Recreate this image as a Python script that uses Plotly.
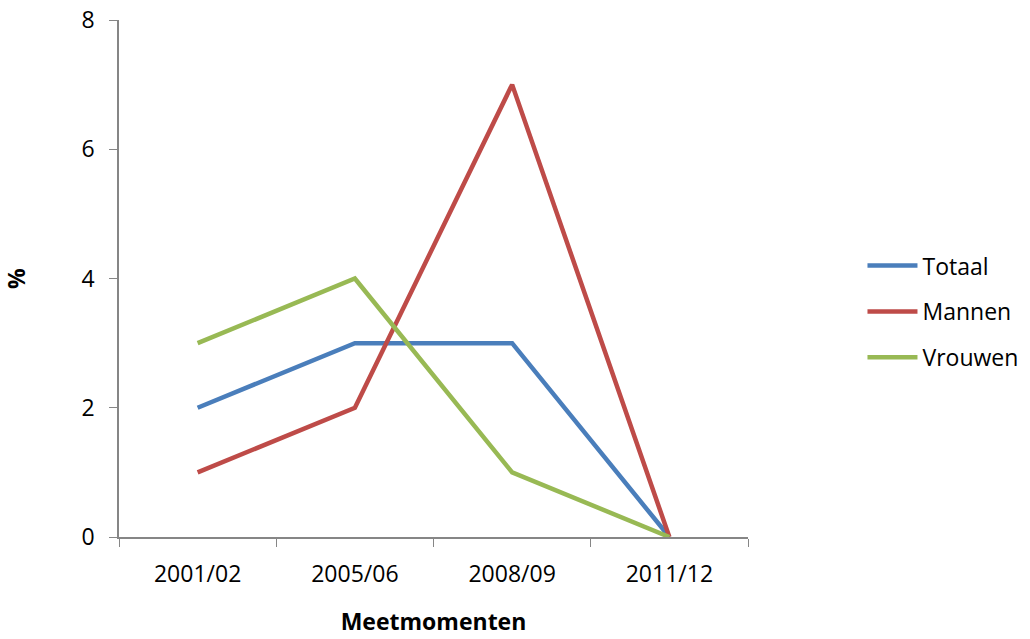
import plotly.graph_objects as go

categories = ["2001/02", "2005/06", "2008/09", "2011/12"]
totaal = [2, 3, 3, 0]
mannen = [1, 2, 7, 0]
vrouwen = [3, 4, 1, 0]

series = [
    ("Totaal", totaal, "#4A7EBB"),
    ("Mannen", mannen, "#BE4B48"),
    ("Vrouwen", vrouwen, "#98B954"),
]

FONT = "Open Sans"
FS = 23

fig = go.Figure()
for name, vals, col in series:
    fig.add_trace(go.Scatter(
        x=categories, y=vals, name=name, mode="lines",
        line=dict(color=col, width=4.5),
        legendgroup=name,
    ))

fig.update_layout(
    width=1030, height=639,
    margin=dict(l=119, r=282, t=20, b=102, autoexpand=False),
    paper_bgcolor="white", plot_bgcolor="white",
    font=dict(family=FONT, size=FS, color="black"),
    showlegend=True,
    legend=dict(
        x=1.182, y=0.436, xanchor="left", yanchor="middle",
        font=dict(family=FONT, size=FS, color="black"),
        tracegroupgap=13, itemwidth=50,
        bgcolor="rgba(0,0,0,0)",
    ),
    xaxis=dict(
        type="category", range=[-0.5, 3.5], automargin=False,
        tickson="boundaries", ticks="outside", ticklen=8,
        tickcolor="#868686", showline=True, linecolor="#868686", linewidth=1.5,
        showgrid=False, zeroline=False, ticklabelstandoff=16,
        ticklabeloverflow="allow",
        tickfont=dict(family=FONT, size=FS),
        title=dict(text="<b>Meetmomenten</b>", font=dict(family=FONT, size=FS), standoff=26),
    ),
    yaxis=dict(
        range=[0, 8], dtick=2, ticks="outside", ticklen=8, automargin=False,
        tickcolor="#868686", showline=True, linecolor="#868686", linewidth=1.5,
        showgrid=False, zeroline=False, ticklabelstandoff=10,
        ticklabeloverflow="allow",
        tickfont=dict(family=FONT, size=FS),
        title=dict(text="<b>%</b>", font=dict(family=FONT, size=FS), standoff=63),
    ),
)

fig.write_html("out.html", config={"displayModeBar": False},
               post_script="document.body.style.margin='0';")
